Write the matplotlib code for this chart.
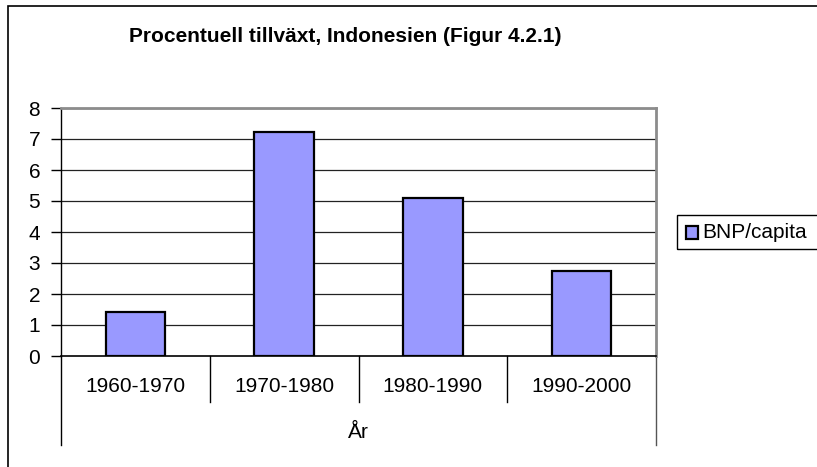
import matplotlib
matplotlib.use("Agg")
import matplotlib.pyplot as plt
from matplotlib.patches import Rectangle
from matplotlib.lines import Line2D
import matplotlib.transforms as mtransforms

categories = ["1960-1970", "1970-1980", "1980-1990", "1990-2000"]
values = [1.43, 7.24, 5.09, 2.74]
yticks = [0, 1, 2, 3, 4, 5, 6, 7, 8]
title = "Procentuell tillväxt, Indonesien (Figur 4.2.1)"
xlabel = "År"
series_name = "BNP/capita"

W, H = 817, 467
plt.rcParams['font.family'] = ['Liberation Sans', 'DejaVu Sans']
fig = plt.figure(figsize=(W / 100, H / 100), dpi=100)

def fx(px):
    return px / W

def fy(py):
    return 1 - py / H

FS = 15
L, R, T, B = 61, 656, 108, 356
ax = fig.add_axes([fx(L), fy(B), fx(R - L), (B - T) / H])

bar_color = "#9999FF"
x = list(range(len(categories)))
ax.bar(x, values, width=0.4, color=bar_color, edgecolor="black", linewidth=1.6, zorder=3)
ax.set_xlim(-0.5, len(categories) - 0.5)
ax.set_ylim(0, 8)
ax.set_yticks(yticks)
ax.set_yticklabels([str(v) for v in yticks], fontsize=FS)
ax.tick_params(axis="y", direction="out", length=7, width=1, pad=8, color="black")
ax.set_xticks([])
for yv in yticks[1:]:
    ax.axhline(yv, color="#222222", linewidth=0.9, zorder=1)

ax.spines["left"].set_color("black")
ax.spines["left"].set_linewidth(1)
ax.spines["bottom"].set_color("black")
ax.spines["bottom"].set_linewidth(1.2)
ax.spines["top"].set_color("#8c8c8c")
ax.spines["top"].set_linewidth(2)
ax.spines["right"].set_color("#8c8c8c")
ax.spines["right"].set_linewidth(2)
ax.spines["bottom"].set_zorder(5)

# category labels and separators
trans = mtransforms.blended_transform_factory(ax.transData, fig.transFigure)
for i, c in enumerate(categories):
    ax.text(i, fy(387), c, transform=trans, ha="center", va="center", fontsize=FS)
for b in [0.5, 1.5, 2.5]:
    ax.add_line(Line2D([b, b], [fy(356), fy(402)], transform=trans, color="black",
                       linewidth=1, clip_on=False))
ax.add_line(Line2D([-0.5, -0.5], [fy(356), fy(445)], transform=trans, color="black",
                   linewidth=1, clip_on=False))
ax.add_line(Line2D([3.5, 3.5], [fy(356), fy(445)], transform=trans, color="#555555",
                   linewidth=1, clip_on=False))
ax.text(1.5, fy(432), xlabel, transform=trans, ha="center", va="center", fontsize=FS)

# title
fig.text(fx(345), fy(37), title, ha="center", va="center", fontsize=15, fontweight="bold")

# outer chart border (extends beyond image edges)
fig.patches.append(Rectangle((fx(8), fy(480)), fx(830), (480 - 6) / H,
                             transform=fig.transFigure, fill=False, edgecolor="black",
                             linewidth=1.2))

# legend
fig.patches.append(Rectangle((fx(677), fy(249)), fx(160), 34 / H,
                             transform=fig.transFigure, fill=False, edgecolor="black",
                             linewidth=1))
fig.patches.append(Rectangle((fx(686), fy(239)), fx(12), 13 / H,
                             transform=fig.transFigure, facecolor=bar_color,
                             edgecolor="black", linewidth=1.6))
fig.text(fx(702), fy(232), series_name, ha="left", va="center", fontsize=FS)

fig.savefig("out.png", dpi=100)
